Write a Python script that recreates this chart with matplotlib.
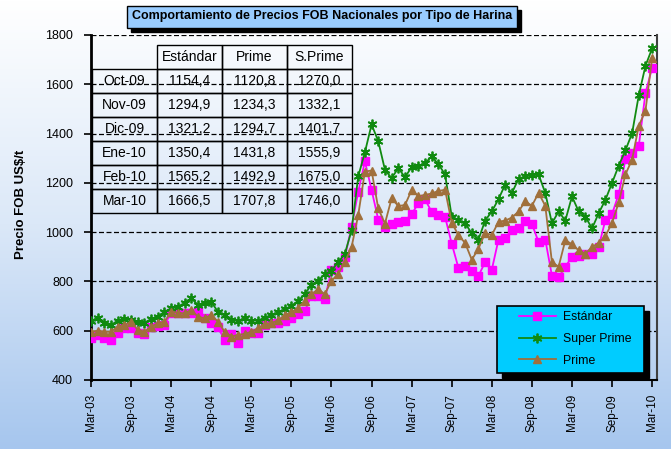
import numpy as np
import matplotlib
matplotlib.use("Agg")
import matplotlib.pyplot as plt
from matplotlib.colors import LinearSegmentedColormap
from matplotlib.patches import Rectangle
from matplotlib.transforms import IdentityTransform

plt.rcParams['font.family'] = ['Liberation Sans', 'DejaVu Sans']
narrow = ['Liberation Sans Narrow', 'Liberation Sans', 'DejaVu Sans']

# precios FOB mensuales, Mar-03 .. Mar-10 (US$/t)
estandar = [570, 583, 570, 563, 592, 610, 610, 590, 585, 614,
            619, 623, 673, 673, 670, 673, 677, 650, 630, 614,
            563, 585, 549, 599, 592, 592, 623, 630, 633, 640,
            653, 667, 680, 742, 742, 728, 847, 858, 898, 1021,
            1164, 1287, 1171, 1051, 1021, 1032, 1041, 1046, 1073, 1117,
            1133, 1082, 1068, 1062, 953, 855, 864, 844, 823, 878,
            848, 970, 977, 1008, 1015, 1047, 1033, 960, 970, 823,
            816, 860, 899, 904, 912, 912, 941, 1049, 1074, 1154.4,
            1294.9, 1321.2, 1350.4, 1565.2, 1666.5]
super_prime = [641, 650, 633, 623, 641, 647, 644, 637, 633, 647,
               657, 677, 691, 698, 712, 732, 705, 712, 717, 677,
               664, 644, 641, 650, 641, 641, 653, 664, 674, 687,
               701, 721, 748, 787, 803, 830, 844, 878, 912, 1007,
               1226, 1324, 1437, 1369, 1253, 1219, 1260, 1223, 1264, 1269,
               1280, 1307, 1276, 1234, 1063, 1049, 1036, 995, 970, 1047,
               1084, 1134, 1193, 1159, 1216, 1227, 1230, 1234, 1159, 1036,
               1084, 1047, 1145, 1084, 1063, 1015, 1077, 1131, 1200, 1270.0,
               1332.1, 1401.7, 1555.9, 1675.0, 1746.0]
prime = [596, 600, 596, 596, 617, 623, 637, 603, 596, 617,
         630, 637, 677, 673, 670, 684, 657, 650, 664, 637,
         596, 576, 583, 587, 596, 610, 628, 631, 642, 664,
         674, 694, 721, 748, 769, 748, 803, 830, 878, 939,
         1069, 1246, 1250, 1096, 1035, 1137, 1106, 1110, 1171, 1146,
         1151, 1157, 1167, 1172, 1038, 988, 956, 888, 933, 997,
         988, 1042, 1047, 1059, 1084, 1125, 1107, 1159, 1107, 878,
         860, 967, 951, 926, 912, 940, 956, 984, 1038, 1120.8,
         1234.3, 1294.7, 1431.8, 1492.9, 1707.8]

tick_labels = ['Mar-03', 'Sep-03', 'Mar-04', 'Sep-04', 'Mar-05', 'Sep-05', 'Mar-06', 'Sep-06',
               'Mar-07', 'Sep-07', 'Mar-08', 'Sep-08', 'Mar-09', 'Sep-09', 'Mar-10']
table_rows = ['Oct-09', 'Nov-09', 'Dic-09', 'Ene-10', 'Feb-10', 'Mar-10']
table_cols = ['Estándar', 'Prime', 'S.Prime']
title = 'Comportamiento de Precios FOB Nacionales por Tipo de Harina'

months = np.arange(len(estandar))
W, H = 671, 449

fig = plt.figure(figsize=(W / 100, H / 100), dpi=100)

# degradado de fondo
bg = fig.add_axes([0, 0, 1, 1], zorder=-10)
grad = np.linspace(0, 1, 256)[:, None]
bg.imshow(grad, aspect='auto', extent=[0, 1, 0, 1],
          cmap=LinearSegmentedColormap.from_list('bg', ['#ffffff', '#dbe8f8', '#a6c6ee']))
bg.axis('off')

ax = fig.add_axes([91 / W, 1 - 380 / H, 565.5 / W, 345 / H])
ax.set_facecolor('none')

ax.plot(months, estandar, color='#ff00ff', marker='s', ms=5.5, lw=1.3, label='Estándar', zorder=3)
ax.plot(months, super_prime, color='#108a10', marker=(6, 2, 0), ms=7, mew=1.3, lw=1.3,
        label='Super Prime', zorder=3)
ax.plot(months, prime, color='#a0703c', marker='^', ms=6, lw=1.3, label='Prime', zorder=3)

ax.set_xlim(0, 84.65)
ax.set_ylim(400, 1800)
ax.set_yticks(range(400, 1801, 200))
ax.yaxis.grid(True, ls=(0, (4, 2)), color='black', lw=0.9)
ax.set_xticks(months[::6])
ax.set_xticklabels(tick_labels, rotation=90, fontsize=8.5)
ax.tick_params(axis='y', labelsize=9, direction='out', length=5, width=1.2, pad=8)
ax.tick_params(axis='x', direction='out', length=5, width=1.2, pad=5)

ax.spines['top'].set_visible(False)
ax.spines['left'].set_linewidth(2)
ax.spines['bottom'].set_linewidth(1.5)
ax.spines['right'].set_linewidth(1.5)
ax.spines['right'].set_color('#404040')

ax.set_ylabel('Precio FOB US$/t', fontweight='bold', fontsize=9.5)
ax.yaxis.set_label_coords((27 - 91) / 565.5, 0.51)

# tabla de ultimos meses
def fmt(v):
    return f'{v:.1f}'.replace('.', ',')

cell_text = [[''] + table_cols]
for k, i in enumerate(range(-6, 0)):
    cell_text.append([table_rows[k], fmt(estandar[i]), fmt(prime[i]), fmt(super_prime[i])])
tbl = ax.table(cellText=cell_text, colWidths=[0.25] * 4, cellLoc='center',
               bbox=[1 / 565.5, (380 - 213) / 345, 260 / 565.5, 168 / 345])
tbl.auto_set_font_size(False)
tbl.set_fontsize(10)
for (r, c), cell in tbl.get_celld().items():
    cell.set_facecolor('none')
    cell.set_edgecolor('black')
    cell.set_linewidth(1)
    if r == 0 and c == 0:
        cell.visible_edges = ''

# leyenda con marco y sombra
lx0, lx1 = (497 - 91) / 565.5, (644 - 91) / 565.5
ly0, ly1 = (380 - 373) / 345, (380 - 306) / 345
ax.add_patch(Rectangle((lx0 + 5 / 565.5, ly0 - 5 / 345), lx1 - lx0, ly1 - ly0, transform=ax.transAxes,
                       fc='black', ec='black', clip_on=False, zorder=4))
ax.add_patch(Rectangle((lx0, ly0), lx1 - lx0, ly1 - ly0, transform=ax.transAxes,
                       fc='#00ccff', ec='black', lw=1.2, clip_on=False, zorder=4.5))
leg = ax.legend(loc='upper left', bbox_to_anchor=((519 - 91) / 565.5, (380 - 311) / 345),
                frameon=False, prop={'family': narrow, 'size': 8.8}, handlelength=3.0,
                borderpad=0, borderaxespad=0, labelspacing=0.8, handletextpad=0.6)
leg.set_zorder(5)

# titulo con sombra
t = fig.text(322 / W, 1 - 16.5 / H, title, ha='center', va='center', fontsize=9, fontweight='bold',
             family=narrow, zorder=3,
             bbox=dict(boxstyle='square,pad=0.4', fc='#99ccff', ec='black', lw=1))
fig.canvas.draw()
bb = t.get_bbox_patch().get_window_extent()
fig.patches.append(Rectangle((bb.x0 + 4, bb.y0 - 4), bb.width, bb.height, fc='black', ec='black',
                             transform=IdentityTransform(), figure=fig, zorder=2))

fig.savefig('out.png', dpi=100)
